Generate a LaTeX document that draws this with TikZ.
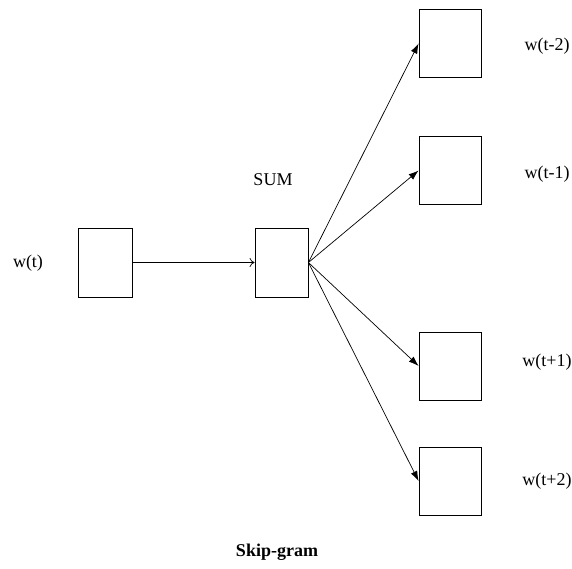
\documentclass[tikz,border=0pt]{standalone}
\usepackage{fontspec}
\setmainfont{Liberation Serif}
\usetikzlibrary{arrows.meta}
\usetikzlibrary{positioning}
\tikzset{word/.style = {draw, line width = 0.8pt, inner sep = 0,
                        minimum width = 54, minimum height = 69}}
\tikzset{outword/.style = {word, minimum width = 62, minimum height = 68}}
\tikzset{lbl/.style = {font = \fontsize{18}{20}\selectfont, inner sep = 0}}
\tikzset{skip/.style = {-{Latex[length = 10, width = 7]}, line width = 0.7pt}}

\begin{document}
\begin{tikzpicture}[x=1pt, y=-1pt]
      \useasboundingbox (0, 0) rectangle (572, 568);

      \node [word] (input) at (105, 262.5) {};
      \node [word, minimum width = 53] (sum) at (281.5, 262.5) {};
      \node [lbl] (inlbl) at (28, 263) {w(t)};
      \node [lbl] (sumlbl) at (273, 180) {SUM};

      \node [outword] (tm2) at (450, 43.5) {};
      \node [outword] (tm1) at (450, 170.5) {};
      \node [outword] (tp1) at (450, 366) {};
      \node [outword] (tp2) at (450, 481) {};

      \node [lbl] (tm2lbl) at (547, 46) {w(t-2)};
      \node [lbl] (tm1lbl) at (547, 174) {w(t-1)};
      \node [lbl] (tp1lbl) at (547, 362) {w(t+1)};
      \node [lbl] (tp2lbl) at (547, 481) {w(t+2)};

      \draw [-{To[length = 5, width = 9]}, line width = 0.7pt] (input.east) -- (sum.west);

      % context words predicted from the sum
      \foreach \out in {tm2, tm1, tp1, tp2}
        \draw [skip] (sum.east) -- (\out.west);

      \node [lbl, font = \fontsize{18}{20}\selectfont\bfseries] (title) at (277, 552) {Skip-gram};
    \end{tikzpicture}
\end{document}
